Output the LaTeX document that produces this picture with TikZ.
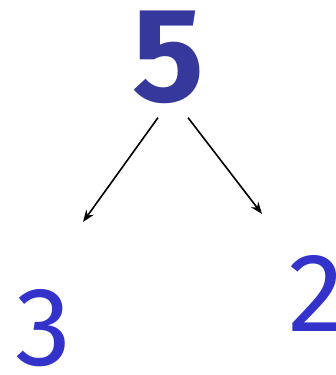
\documentclass[tikz,border=0pt]{standalone}
\usepackage{fontspec}
\setmainfont{Fira Sans}
\usepackage{xcolor}
\usepackage{tikz}
\usetikzlibrary{arrows.meta, positioning, calc}
\definecolor{topblue}{RGB}{54, 56, 155}
\definecolor{partblue}{RGB}{51, 51, 204}
\tikzset{
    whole/.style={inner sep=0pt, text=topblue, font=\fontsize{134}{134}\selectfont\bfseries},
    part/.style={inner sep=0pt, text=partblue, font=\fontsize{112}{112}\selectfont},
    split/.style={line width=1.6pt, -{Stealth[length=12pt, width=9pt]}}
}
\begin{document}
\begin{tikzpicture}[x=1pt, y=-1pt]
        % Frame
        \clip (0,0) rectangle (335,375);
        
        % Whole number
        \node[whole] (five) at (168,57) {5};
        
        % Parts
        \node[part] (three) at (43,328) {3};
        \node[part] (two) at (316,293) {2};
        
        % Arrow ends above the parts
        \coordinate (tothree) at (83,222);
        \coordinate (totwo) at (262,214);
        
        % Splitting arrows
        \draw[split] ([shift={(-10,14)}]five.south) -- (tothree);
        \draw[split] ([shift={(20,14)}]five.south) -- (totwo);
    \end{tikzpicture}
\end{document}
